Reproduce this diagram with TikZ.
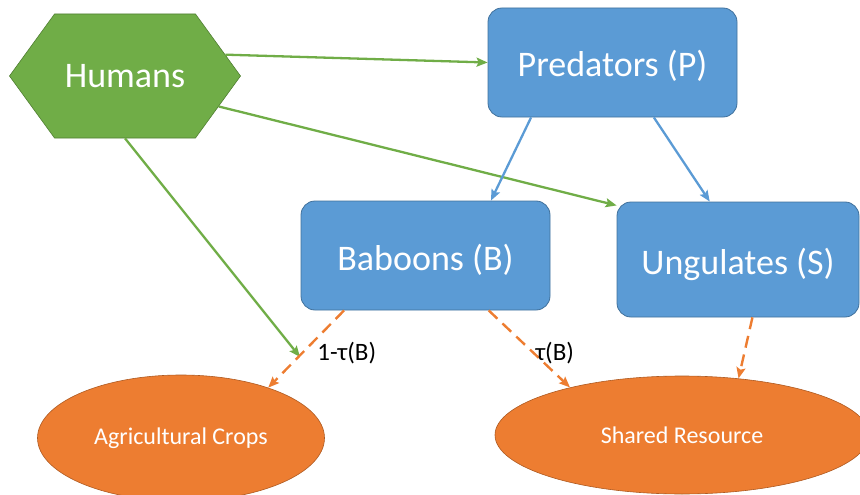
\documentclass[tikz,border=0pt]{standalone}
\usepackage{fontspec}
\setmainfont{Carlito}
\usetikzlibrary{arrows.meta,shapes.geometric,shapes.symbols,positioning}
\definecolor{humangreen}{HTML}{70AD47}
\definecolor{humanedge}{HTML}{507E32}
\definecolor{animalblue}{HTML}{5B9BD5}
\definecolor{animaledge}{HTML}{41719C}
\definecolor{resorange}{HTML}{ED7D31}
\definecolor{resedge}{HTML}{AE5A21}
\tikzset{
    animal/.style={
           rectangle,
           rounded corners=14pt,
           draw=animaledge,
           fill=animalblue,
           line width=0.8pt,
           text=white,
           font=\fontsize{36}{43}\selectfont,
           minimum width=249pt,
           minimum height=109pt,
           text height=29pt,
           text depth=0pt,
           inner sep=2pt,
           text centered,
           },
    resource/.style={
           ellipse,
           draw=resedge,
           fill=resorange,
           line width=0.6pt,
           text=white,
           font=\fontsize{24}{29}\selectfont,
           inner sep=0pt,
           },
    human/.style={
           signal,
           signal to=west and east,
           signal pointer angle=108,
           draw=humanedge,
           fill=humangreen,
           line width=0.6pt,
           text=white,
           font=\fontsize{36}{43}\selectfont,
           minimum width=231pt,
           minimum height=124pt,
           inner sep=0pt,
           },
    hunt/.style={draw=humangreen,line width=2.3pt},
    prey/.style={draw=animalblue,line width=2.3pt},
    eat/.style={draw=resorange,line width=2.4pt,dash pattern=on 12pt off 7pt},
    share/.style={font=\fontsize{25}{30}\selectfont,inner sep=2pt},
}

\begin{document}
\begin{tikzpicture}[x=1pt,y=-1pt,->,>={Stealth[length=11pt,width=9pt,inset=2pt]}]
\useasboundingbox (0,0) rectangle (860,495);
\clip (0,0) rectangle (860,495);
\node[human](humans) at (125,76) {Humans};
\node[animal,right of=humans,node distance=487.5pt,yshift=13.5pt](predators) {Predators (P)};
\node[animal,below of=predators,node distance=193pt,xshift=-187pt](baboons) {Baboons (B)};
\node[animal,below of=predators,node distance=197pt,xshift=125.5pt,
      minimum width=242pt,minimum height=115pt](ungulates) {Ungulates (S)};
\node[resource,below of=baboons,node distance=182.5pt,xshift=-244.5pt,
      minimum width=287pt,minimum height=126pt](crops) {Agricultural Crops};
\node[resource,below of=ungulates,node distance=175.5pt,xshift=-56pt,
      minimum width=374pt,minimum height=118pt](shared) {Shared Resource};
\coordinate (cropsend) at (300,357);

\draw[hunt] (humans.12) -- (predators.west);
\draw[hunt] (humans.-18) -- (ungulates.156);
\draw[hunt] (humans.south) -- (cropsend);
\draw[prey] (predators.214) -- (baboons.40);
\draw[prey] (predators.307) -- (ungulates.116);
\draw[eat] (baboons.214) -- node[share,pos=0.5,anchor=west,xshift=8pt,yshift=-4pt]{1-τ(B)} (crops.30);
\draw[eat] (baboons.319) -- node[share,pos=0.5,anchor=west,xshift=3pt,yshift=-4pt]{τ(B)} (shared.157);
\draw[eat] (ungulates.284) -- (shared.45);
\end{tikzpicture}
\end{document}
